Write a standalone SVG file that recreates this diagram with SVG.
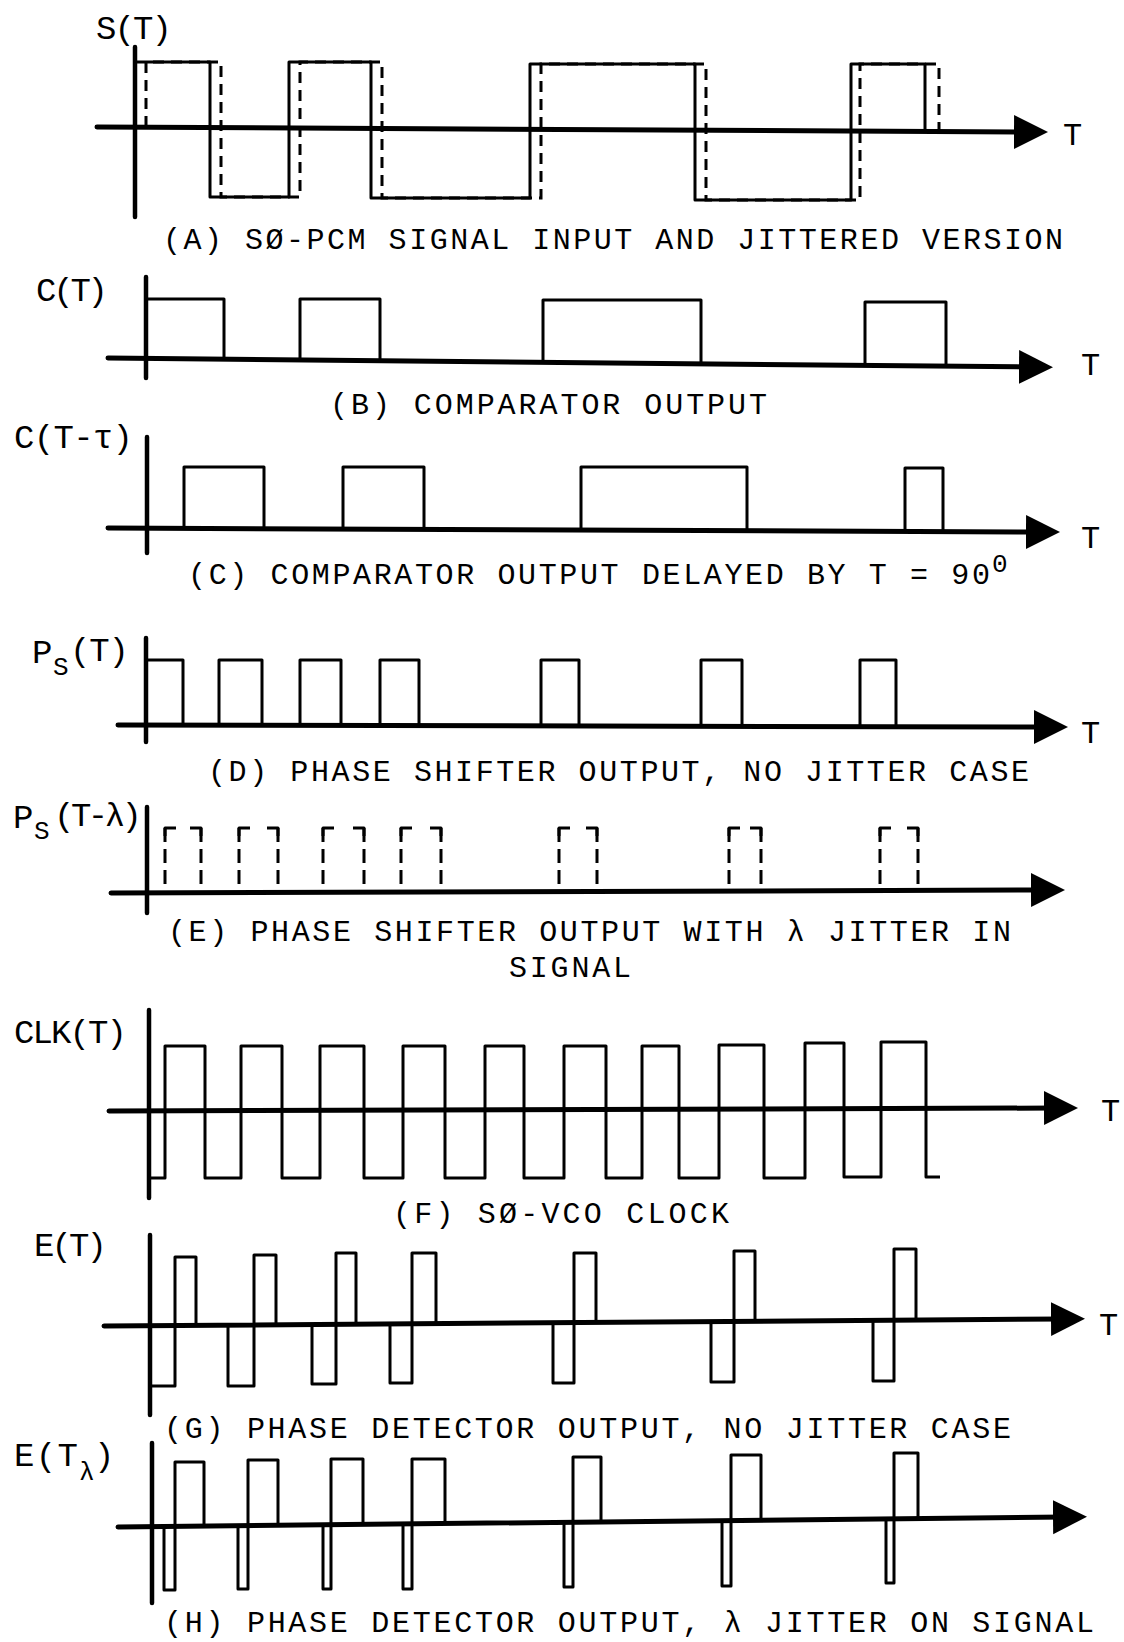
<svg xmlns="http://www.w3.org/2000/svg" width="1124" height="1642" viewBox="0 0 1124 1642">
<style>
  .vax{stroke:#000;stroke-width:4.5;stroke-linecap:round;fill:none}
  .hax{stroke:#000;stroke-width:5;stroke-linecap:round;fill:none}
  .wave{stroke:#000;stroke-width:3;fill:none;stroke-linejoin:round}
  .dash{stroke:#000;stroke-width:3;fill:none;stroke-dasharray:11 7}
  .dashv{stroke:#000;stroke-width:3;fill:none;stroke-dasharray:14 7}
  text{font-family:"Liberation Mono","DejaVu Sans Mono",monospace;fill:#000}
  .cap{font-size:30px}
  .ylab{font-size:34px}
  .sub{font-size:26px}
  .tlab{font-size:32px}
</style>
<defs>
  <marker id="arr" markerUnits="userSpaceOnUse" markerWidth="34" markerHeight="36" viewBox="0 0 34 36" refX="12" refY="18" orient="auto">
    <path d="M0,1 L34,18 L0,35 Z" fill="#000"/>
  </marker>
</defs>

<g id="panel-a">
  <line class="vax" x1="135" y1="47" x2="135" y2="217"/>
  <path class="dash" d="M146,127 V62 H221 V197 H300 V62 H382 V198 H541 V64 H706 V200 H860 V64 H939 V132"/>
  <path class="wave" d="M135,62 H210 V197 H289 V62 H371 V198 H530 V64 H695 V200 H851 V64 H925 V131"/>
  <text class="ylab" x="96" y="39" textLength="76" lengthAdjust="spacing">S(T)</text>
  <text class="tlab" x="1063" y="145">T</text>
  <text class="cap" x="163" y="249" textLength="900" lengthAdjust="spacing">(A)  SØ-PCM SIGNAL INPUT AND JITTERED VERSION</text>
</g>

<g id="panel-b">
  <line class="vax" x1="146" y1="277" x2="146" y2="378"/>
  <path class="wave" d="M146,299 H224 V359 M300,360 V299 H380 V361 M543,362 V300 H701 V364 M865,365 V302 H946 V366"/>
  <text class="ylab" x="36" y="301" textLength="72" lengthAdjust="spacing">C(T)</text>
  <text class="tlab" x="1081" y="375">T</text>
  <text class="cap" x="330" y="414" textLength="437" lengthAdjust="spacing">(B)  COMPARATOR OUTPUT</text>
</g>

<g id="panel-c">
  <line class="vax" x1="147" y1="437" x2="147" y2="553"/>
  <path class="wave" d="M184,529 V467 H264 V529 M343,529 V467 H424 V530 M581,530 V467 H747 V531 M905,532 V468 H943 V532"/>
  <text class="ylab" x="14" y="448" textLength="119" lengthAdjust="spacing">C(T-τ)</text>
  <text class="tlab" x="1081" y="548">T</text>
  <text class="cap" x="188" y="584" textLength="802" lengthAdjust="spacing">(C)  COMPARATOR OUTPUT DELAYED BY T = 90</text>
  <text class="sub" x="992" y="572">0</text>
</g>

<g id="panel-d">
  <line class="vax" x1="146" y1="638" x2="146" y2="742"/>
  <path class="wave" d="M146,660 H183 V726 M219,726 V660 H262 V726 M300,726 V660 H341 V726 M380,726 V660 H419 V726 M541,726 V660 H579 V726 M701,727 V660 H742 V727 M860,727 V660 H896 V727"/>
  <text class="ylab" x="32" y="663">P</text>
  <text class="sub" x="53" y="675">S</text>
  <text class="ylab" x="70" y="661" textLength="59" lengthAdjust="spacing">(T)</text>
  <text class="tlab" x="1081" y="743">T</text>
  <text class="cap" x="208" y="781" textLength="821" lengthAdjust="spacing">(D)  PHASE SHIFTER OUTPUT, NO JITTER CASE</text>
</g>

<g id="panel-e">
  <line class="vax" x1="147" y1="807" x2="147" y2="913"/>
  <path class="dashv" d="M165,828 V892 M201,828 V892 M239,828 V892 M278,828 V892 M323,828 V892 M364,828 V892 M401,828 V892 M441,828 V892 M559,828 V891 M597,828 V891 M729,828 V891 M761,828 V891 M880,828 V890 M918,828 V890"/>
  <path class="wave" d="M165,836 V828 H176 M190,828 H201 V836 M239,836 V828 H250 M267,828 H278 V836 M323,836 V828 H334 M353,828 H364 V836 M401,836 V828 H412 M430,828 H441 V836 M559,836 V828 H570 M586,828 H597 V836 M729,836 V828 H740 M750,828 H761 V836 M880,836 V828 H891 M907,828 H918 V836"/>
  <text class="ylab" x="13" y="828">P</text>
  <text class="sub" x="34" y="839">S</text>
  <text class="ylab" x="54" y="826" textLength="88" lengthAdjust="spacing">(T-λ)</text>
  <text class="cap" x="168" y="941" textLength="843" lengthAdjust="spacing">(E)  PHASE SHIFTER OUTPUT WITH λ JITTER IN</text>
  <text class="cap" x="509" y="977" textLength="122" lengthAdjust="spacing">SIGNAL</text>
</g>

<g id="panel-f">
  <line class="vax" x1="149" y1="1010" x2="149" y2="1198"/>
  <path class="wave" d="M149,1178 H165 V1046 H205 V1178 H241 V1046 H282 V1178 H320 V1046 H364 V1178 H403 V1046 H445 V1178 H485 V1046 H524 V1178 H564 V1046 H606 V1178 H642 V1046 H679 V1178 H719 V1045 H764 V1178 H805 V1043 H844 V1177 H881 V1042 H926 V1177 H940"/>
  <text class="ylab" x="14" y="1043" textLength="113" lengthAdjust="spacing">CLK(T)</text>
  <text class="tlab" x="1101" y="1121">T</text>
  <text class="cap" x="393" y="1223" textLength="336" lengthAdjust="spacing">(F)  SØ-VCO CLOCK</text>
</g>

<g id="panel-g">
  <line class="vax" x1="150" y1="1235" x2="150" y2="1415"/>
  <path class="wave" d="M150,1326 V1386 H175 V1257 H196 V1326 M228,1325 V1386 H254 V1255 H276 V1325 M312,1324 V1384 H336 V1253 H356 V1324 M390,1324 V1383 H412 V1253 H436 V1324 M553,1323 V1383 H574 V1253 H596 V1322 M711,1322 V1382 H734 V1251 H755 V1321 M873,1320 V1381 H894 V1249 H916 V1320"/>
  <text class="ylab" x="34" y="1256" textLength="73" lengthAdjust="spacing">E(T)</text>
  <text class="tlab" x="1099" y="1335">T</text>
  <text class="cap" x="164" y="1438" textLength="847" lengthAdjust="spacing">(G)  PHASE DETECTOR OUTPUT, NO JITTER CASE</text>
</g>

<g id="panel-h">
  <line class="vax" x1="152" y1="1443" x2="152" y2="1603"/>
  <path class="wave" d="M164,1526 V1590 H175 V1462 H204 V1526 M238,1526 V1589 H248 V1460 H278 V1525 M323,1525 V1589 H331 V1459 H363 V1524 M403,1524 V1589 H412 V1459 H445 V1523 M564,1522 V1587 H573 V1457 H601 V1522 M722,1521 V1586 H731 V1455 H761 V1520 M886,1519 V1583 H894 V1453 H918 V1519"/>
  <text class="ylab" x="14" y="1466" textLength="64" lengthAdjust="spacing">E(T</text>
  <text class="sub" x="79" y="1480">λ</text>
  <text class="ylab" x="94" y="1466">)</text>
  <text class="cap" x="164" y="1632" textLength="930" lengthAdjust="spacing">(H)  PHASE DETECTOR OUTPUT, λ JITTER ON SIGNAL</text>
</g>

<g id="connectors">
  <line class="hax" x1="97" y1="127" x2="1026" y2="132" marker-end="url(#arr)"/>
  <line class="hax" x1="108" y1="358" x2="1031" y2="367" marker-end="url(#arr)"/>
  <line class="hax" x1="108" y1="528" x2="1038" y2="532" marker-end="url(#arr)"/>
  <line class="hax" x1="118" y1="725" x2="1046" y2="727" marker-end="url(#arr)"/>
  <line class="hax" x1="111" y1="893" x2="1043" y2="890" marker-end="url(#arr)"/>
  <line class="hax" x1="109" y1="1111" x2="1056" y2="1108" marker-end="url(#arr)"/>
  <line class="hax" x1="104" y1="1326" x2="1063" y2="1319" marker-end="url(#arr)"/>
  <line class="hax" x1="118" y1="1527" x2="1065" y2="1517" marker-end="url(#arr)"/>
</g>
</svg>
